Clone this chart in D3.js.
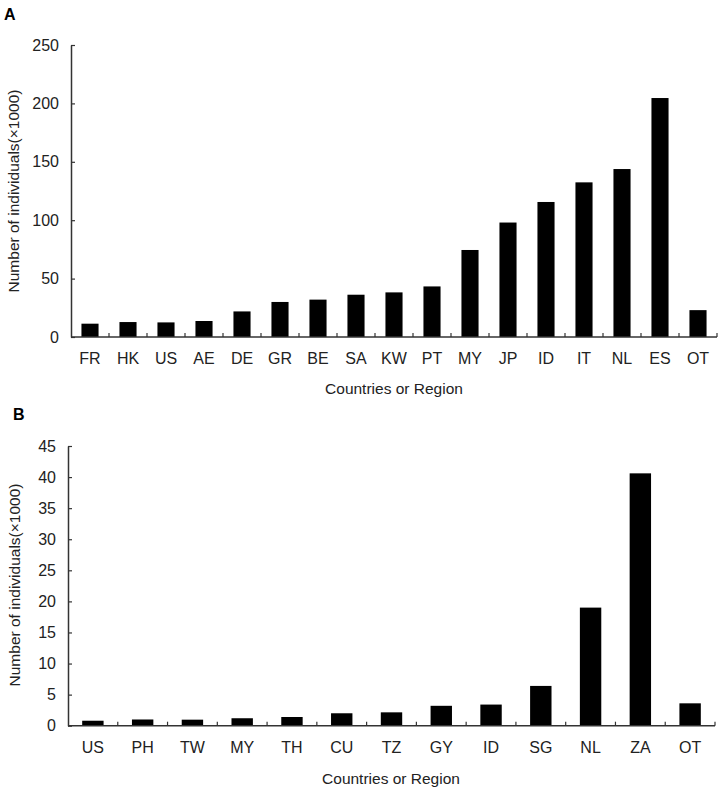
<!DOCTYPE html>
<html><head><meta charset="utf-8">
<script src="https://cdn.jsdelivr.net/npm/d3@7"></script>
<style>body{margin:0;background:#fff}svg{display:block}text{font-family:Arial,"Liberation Sans",sans-serif;fill:#222}</style>
</head><body>
<script>
const catsA = ["FR","HK","US","AE","DE","GR","BE","SA","KW","PT","MY","JP","ID","IT","NL","ES","OT"];
const valsA = [11.4,12.8,12.5,13.7,21.9,30,32,36.2,38.2,43.3,74.5,98,115.6,132.4,143.8,204.6,23];
const ticksA = [0,50,100,150,200,250];
const catsB = ["US","PH","TW","MY","TH","CU","TZ","GY","ID","SG","NL","ZA","OT"];
const valsB = [0.8,1.0,0.97,1.2,1.4,2.0,2.15,3.2,3.4,6.4,19.0,40.6,3.6];
const ticksB = [0,5,10,15,20,25,30,35,40,45];

const svg = d3.select("body").append("svg").attr("width",726).attr("height",793);

function panel(o){
  const g = svg.append("g");
  const x = d3.scaleBand().domain(o.cats).range([o.x0,o.x1]).paddingInner(0).paddingOuter(0);
  const y = d3.scaleLinear().domain([0,o.max]).range([o.y0,o.y1]);
  const bw = x.bandwidth()*o.bf;
  g.selectAll("rect").data(o.vals).join("rect")
    .attr("x",(d,i)=>x(o.cats[i])+(x.bandwidth()-bw)/2)
    .attr("width",bw)
    .attr("y",d=>y(d)).attr("height",d=>o.y0-y(d)).attr("fill","#000");
  const ya = d3.axisLeft(y).tickValues(o.ticks).tickSize(-4).tickPadding(12).tickSizeOuter(0);
  const gy = g.append("g").attr("transform",`translate(${o.x0},0)`).call(ya);
  gy.select(".domain").attr("stroke","#333").attr("stroke-width",1.5);
  gy.selectAll(".tick line").attr("stroke","#333").attr("stroke-width",1.2);
  gy.selectAll("text").attr("font-size",16).style("fill","#222");
  const xa = d3.axisBottom(x).tickSize(0).tickPadding(o.tp);
  const gx = g.append("g").attr("transform",`translate(0,${o.y0})`).call(xa);
  gx.select(".domain").attr("stroke","#333").attr("stroke-width",1.5).attr("d",`M${o.x0},0H${o.x1}`);
  gx.selectAll("text").attr("font-size",16).style("fill","#222");
  const bounds = o.cats.map(c=>x(c)+x.bandwidth());
  gx.selectAll(".bt").data(bounds).join("line").attr("class","bt")
    .attr("x1",d=>d).attr("x2",d=>d).attr("y1",0).attr("y2",-4)
    .attr("stroke","#333").attr("stroke-width",1.2);
  g.append("text").attr("x",o.xtx).attr("y",o.xty).attr("text-anchor","middle").attr("font-size",15.5).text("Countries or Region");
  g.append("text").attr("transform",`translate(${o.ytx},${o.yty}) rotate(-90)`).attr("text-anchor","middle").attr("font-size",15.5).text("Number of individuals(×1000)");
  g.append("text").attr("x",o.lx).attr("y",o.ly).attr("font-size",16).attr("font-weight","bold").style("fill","#000").text(o.label);
}

panel({cats:catsA, vals:valsA, ticks:ticksA, max:250, x0:71, x1:717, y0:337, y1:45, bf:0.45, tp:16,
  xtx:394, xty:394, ytx:19, yty:191, lx:4, ly:20, label:"A"});
panel({cats:catsB, vals:valsB, ticks:ticksB, max:45, x0:68, x1:715, y0:725.7, y1:446, bf:0.43, tp:16,
  xtx:391, xty:784, ytx:20, yty:585, lx:13, ly:420, label:"B"});
</script>
</body></html>
